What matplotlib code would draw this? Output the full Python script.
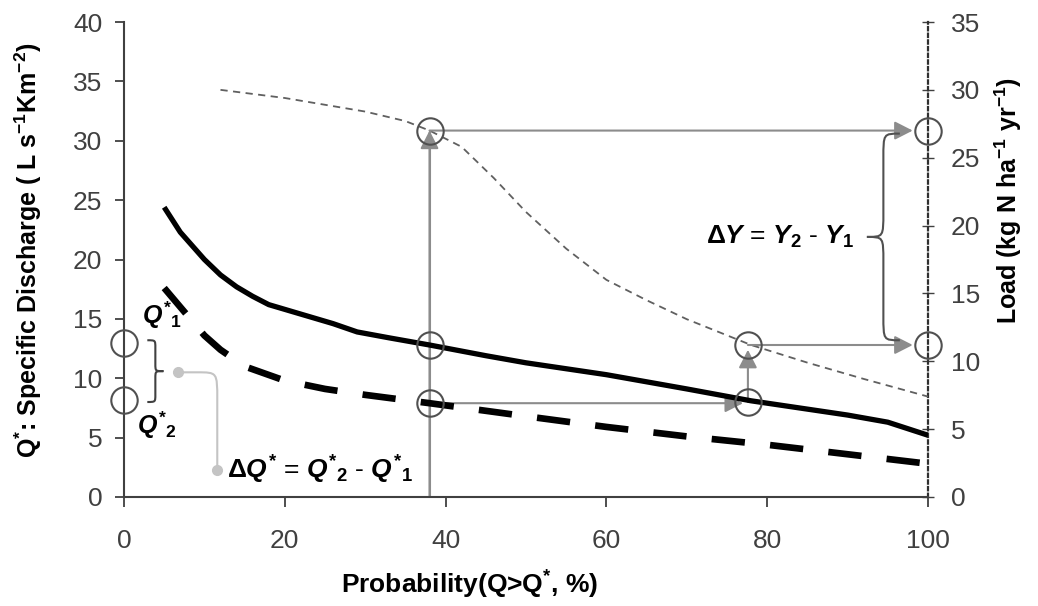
import matplotlib
matplotlib.use("Agg")
import matplotlib.pyplot as plt
from matplotlib.path import Path
from matplotlib.patches import PathPatch

plt.rcParams['font.family'] = ['Liberation Sans', 'DejaVu Sans']
plt.rcParams['mathtext.fontset'] = 'custom'
plt.rcParams['mathtext.rm'] = 'Liberation Sans:bold'
plt.rcParams['mathtext.it'] = 'Liberation Sans:italic:bold'
plt.rcParams['mathtext.bf'] = 'Liberation Sans:bold'

# --- data ---
# Q*1 curve (thick solid), specific discharge vs exceedance probability
prob_q1 = [5, 7, 10, 12, 14, 16, 18, 20, 23, 26, 29, 33, 38, 45, 50, 55, 60, 65, 70, 78, 85, 90, 95, 100]
q1 = [24.4, 22.3, 20.0, 18.7, 17.7, 16.9, 16.2, 15.8, 15.2, 14.6, 13.9, 13.4, 12.8, 11.9, 11.3, 10.8,
      10.3, 9.7, 9.1, 8.1, 7.4, 6.9, 6.3, 5.2]

# Q*2 curve (thick dashed)
prob_q2 = [5, 8, 10, 12, 15, 20, 25, 30, 38, 50, 60, 70, 80, 90, 100]
q2 = [17.6, 15.2, 13.6, 12.4, 11.0, 9.8, 9.1, 8.6, 7.9, 6.8, 5.9, 5.1, 4.4, 3.6, 2.8]

# Load curve (thin dashed, right axis)
prob_load = [12, 20, 30, 35, 38, 42, 46, 50, 55, 60, 65, 70, 78, 85, 92, 100]
load = [30.0, 29.4, 28.4, 27.7, 27.0, 25.8, 23.5, 21.0, 18.3, 16.0, 14.5, 13.1, 11.2, 9.9, 8.7, 7.4]

# highlighted points
p_a = 38.0      # probability where Q*1 / Q*2 are read
p_b = 77.6      # probability where Q*1 reaches Q*2
q_star1 = 13.0
q_star2 = 8.2
q1_at_a = 12.8
q2_at_a = 7.9
q1_at_b = 8.0
y1_load = 11.2
y2_load = 27.0

left_max = 40
right_max = 35

GREY = '#8c8c8c'
CIRC = '#505050'
TICKC = '#404040'

fig = plt.figure(figsize=(10.38, 6.06), dpi=100)
ax = fig.add_axes([124 / 1038, 109 / 606, 804 / 1038, 475 / 606])
ax2 = ax.twinx()

ax.set_xlim(0, 100)
ax.set_ylim(0, left_max)
ax2.set_ylim(0, right_max)


def to_left(v):
    return v * left_max / right_max


# curves
ax.plot(prob_q1, q1, color='black', lw=3.8, solid_capstyle='butt', solid_joinstyle='round', zorder=3)
ax.plot(prob_q2, q2, color='black', lw=4.8, dashes=(5, 3.8), dash_capstyle='butt', zorder=3)
ax2.plot(prob_load, load, color='#606060', lw=1.3, dashes=(4, 3), zorder=3)

# grey guide lines and arrows
ax.plot([p_a, p_a], [0, to_left(y2_load)], color=GREY, lw=1.5, zorder=2)
arr = dict(arrowstyle='-|>,head_length=0.55,head_width=0.28', color=GREY, lw=1.5,
           mutation_scale=20, shrinkA=0)
ax.annotate('', xy=(p_a, to_left(y2_load)), xytext=(p_a, 0),
            arrowprops=dict(arr, shrinkB=0), zorder=2)
ax.annotate('', xy=(100, to_left(y2_load)), xytext=(p_a, to_left(y2_load)),
            arrowprops=dict(arr, shrinkB=11), zorder=2)
ax.annotate('', xy=(p_b - 0.6, q2_at_a), xytext=(p_a, q2_at_a),
            arrowprops=dict(arr, shrinkB=0), zorder=2)
ax.annotate('', xy=(p_b, to_left(y1_load) - 0.4), xytext=(p_b, q1_at_b),
            arrowprops=dict(arr, shrinkB=0), zorder=2)
ax.annotate('', xy=(100, to_left(y1_load)), xytext=(p_b, to_left(y1_load)),
            arrowprops=dict(arr, shrinkB=11), zorder=2)

# open circles
circ_x = [0, 0, p_a, p_a, p_b, p_a, p_b, 100, 100]
circ_y = [q_star1, q_star2, q1_at_a, q2_at_a, q1_at_b,
          to_left(y2_load), to_left(y1_load), to_left(y2_load), to_left(y1_load)]
ax.plot(circ_x, circ_y, ls='none', marker='o', ms=19, mfc='none', mec=CIRC, mew=1.5,
        clip_on=False, zorder=5)


def brace(x0, xtip, ytop, ybot, color):
    xm = (x0 + xtip) / 2
    ymid = (ytop + ybot) / 2
    q = (ytop - ybot) * 0.12
    verts = [(x0, ytop), (xm, ytop), (xm, ytop), (xm, ytop - q),
             (xm, ymid + q),
             (xm, ymid), (xm, ymid), (xtip, ymid),
             (xm, ymid), (xm, ymid), (xm, ymid - q),
             (xm, ybot + q),
             (xm, ybot), (xm, ybot), (x0, ybot)]
    codes = [Path.MOVETO, Path.CURVE4, Path.CURVE4, Path.CURVE4,
             Path.LINETO,
             Path.CURVE4, Path.CURVE4, Path.CURVE4,
             Path.CURVE4, Path.CURVE4, Path.CURVE4,
             Path.LINETO,
             Path.CURVE4, Path.CURVE4, Path.CURVE4]
    ax.add_patch(PathPatch(Path(verts, codes), fc='none', ec=color, lw=1.5,
                           zorder=4, clip_on=False))


brace(2.9, 4.9, 13.2, 8.0, '#404040')
brace(96.5, 92.4, 30.6, 13.2, '#505050')

# connector from left brace to the delta-Q label
LIGHT = '#c4c4c4'
cverts = [(6.7, 10.5), (9.1, 10.5), (11.6, 10.5), (11.6, 10.5), (11.6, 8.2), (11.6, 2.3)]
ccodes = [Path.MOVETO, Path.LINETO, Path.CURVE4, Path.CURVE4, Path.CURVE4, Path.LINETO]
ax.add_patch(PathPatch(Path(cverts, ccodes), fc='none', ec=LIGHT, lw=1.5, zorder=4))
ax.plot([6.7, 11.6], [10.5, 2.3], ls='none', marker='o', ms=7, color=LIGHT, zorder=4)

# annotation texts
ax.text(2.2, 15.3, r'$Q^{*}{}_{1}$', fontsize=18, ha='left', va='center', zorder=6)
ax.text(1.6, 6.0, r'$Q^{*}{}_{2}$', fontsize=18, ha='left', va='center', zorder=6)
ax.text(12.8, 2.3, r'$\Delta Q^{*}$ = $Q^{*}{}_{2}$ - $Q^{*}{}_{1}$', fontsize=19,
        ha='left', va='center', zorder=6)
ax.text(81.6, 21.9, r'$\Delta Y$ = $Y_{2}$ - $Y_{1}$', fontsize=19,
        ha='center', va='center', zorder=6)

# axes styling
for s in ['top', 'right']:
    ax.spines[s].set_visible(False)
for s in ['left', 'bottom']:
    ax.spines[s].set_color(TICKC)
    ax.spines[s].set_linewidth(1.5)
for s in ['top', 'left', 'bottom']:
    ax2.spines[s].set_visible(False)
ax2.spines['right'].set_linestyle((0, (1.5, 1.5)))
ax2.spines['right'].set_color('#303030')
ax2.spines['right'].set_linewidth(1.6)

ax.set_xticks([0, 20, 40, 60, 80, 100])
ax.set_yticks(range(0, 41, 5))
ax2.set_yticks(range(0, 36, 5))
ax.tick_params(axis='x', direction='out', length=7, width=1.3, color=TICKC,
               labelsize=19, labelcolor=TICKC, pad=16)
ax.tick_params(axis='y', direction='out', length=6.5, width=1.3, color=TICKC,
               labelsize=19, labelcolor=TICKC, pad=9)
ax2.tick_params(axis='y', direction='inout', length=9, width=1.0, color='#404040',
                labelsize=19, labelcolor=TICKC, pad=12)

ax.set_ylabel(r'Q$^{*}$: Specific Discharge ( L s$^{-1}$Km$^{-2}$)', fontsize=18,
              fontweight='bold')
ax.yaxis.set_label_coords(-0.1, 0.52)
ax2.set_ylabel(r'Load (kg N ha$^{-1}$ yr$^{-1}$)', fontsize=18, fontweight='bold')
ax2.yaxis.set_label_coords(1.08, 0.625)
ax.set_xlabel(r'Probability(Q>Q$^{*}$, %)', fontsize=19, fontweight='bold')
ax.xaxis.set_label_coords(0.43, -0.152)

ax.set_zorder(ax2.get_zorder() + 1)
ax.patch.set_visible(False)

fig.savefig('out.png', dpi=100)
